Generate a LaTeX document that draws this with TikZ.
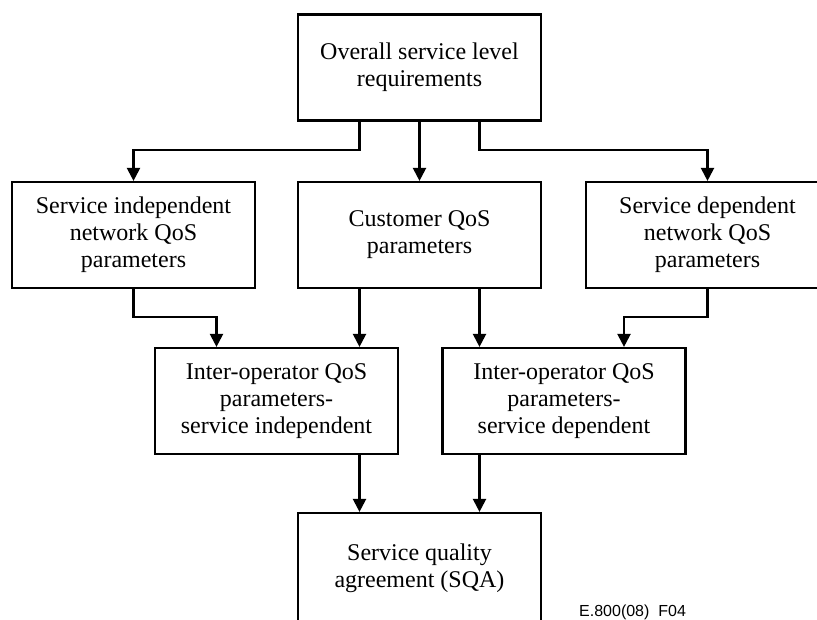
\documentclass[tikz,border=0pt]{standalone}
\usepackage{fontspec}
\setmainfont{Liberation Serif}
\newfontfamily\labelfont{Liberation Sans}
\usetikzlibrary{arrows.meta}
\begin{document}
\begin{tikzpicture}[x=1pt, y=-1pt,
  blk/.style={draw, line width=2.2pt, rectangle, minimum width=243pt, minimum height=106pt, inner sep=0pt, align=center, font=\fontsize{24}{27}\selectfont},
  arr/.style={line width=2.2pt, -{Triangle[length=13pt,width=13pt]}}]
\useasboundingbox (0,0) rectangle (817,619);
\node[blk] (req) at (419.5,67.5){Overall service level\\requirements};
\node[blk] (indep) at (133.5,235){Service independent\\network QoS\\parameters};
\node[blk] (cust) at (419.5,235){Customer QoS\\parameters};
\node[blk] (dep) at (707.5,235){Service dependent\\network QoS\\parameters};
\node[blk] (ioind) at (276.5,401){Inter-operator QoS\\parameters-\\service independent};
\node[blk] (iodep) at (564,401){Inter-operator QoS\\parameters-\\service dependent};
\node[blk, minimum height=110pt] (sqa) at (419.5,568){Service quality\\agreement (SQA)};
\node[anchor=base west, inner sep=0pt, font=\labelfont\fontsize{16}{18}\selectfont] (fig) at (579,616){E.800(08)\ \ F04};
\draw[arr]([xshift=-60pt]req.south) |- ([yshift=31pt]indep.north) -- (indep.north);
\draw[arr](req.south) -- (cust.north);
\draw[arr]([xshift=60pt]req.south) |- ([yshift=31pt]dep.north) -- (dep.north);
\draw[arr](indep.south) |- ([xshift=-60pt,yshift=30pt]ioind.north) -- ([xshift=-60pt]ioind.north);
\draw[arr]([xshift=-60pt]cust.south) -- ([xshift=-60pt]cust.south |- ioind.north);
\draw[arr]([xshift=60pt]cust.south) -- ([xshift=60pt]cust.south |- iodep.north);
\draw[arr](dep.south) |- ([xshift=60pt,yshift=30pt]iodep.north) -- ([xshift=60pt]iodep.north);
\draw[arr]([xshift=-60pt]sqa.north |- ioind.south) -- ([xshift=-60pt]sqa.north);
\draw[arr]([xshift=60pt]sqa.north |- iodep.south) -- ([xshift=60pt]sqa.north);
\end{tikzpicture}
\end{document}
